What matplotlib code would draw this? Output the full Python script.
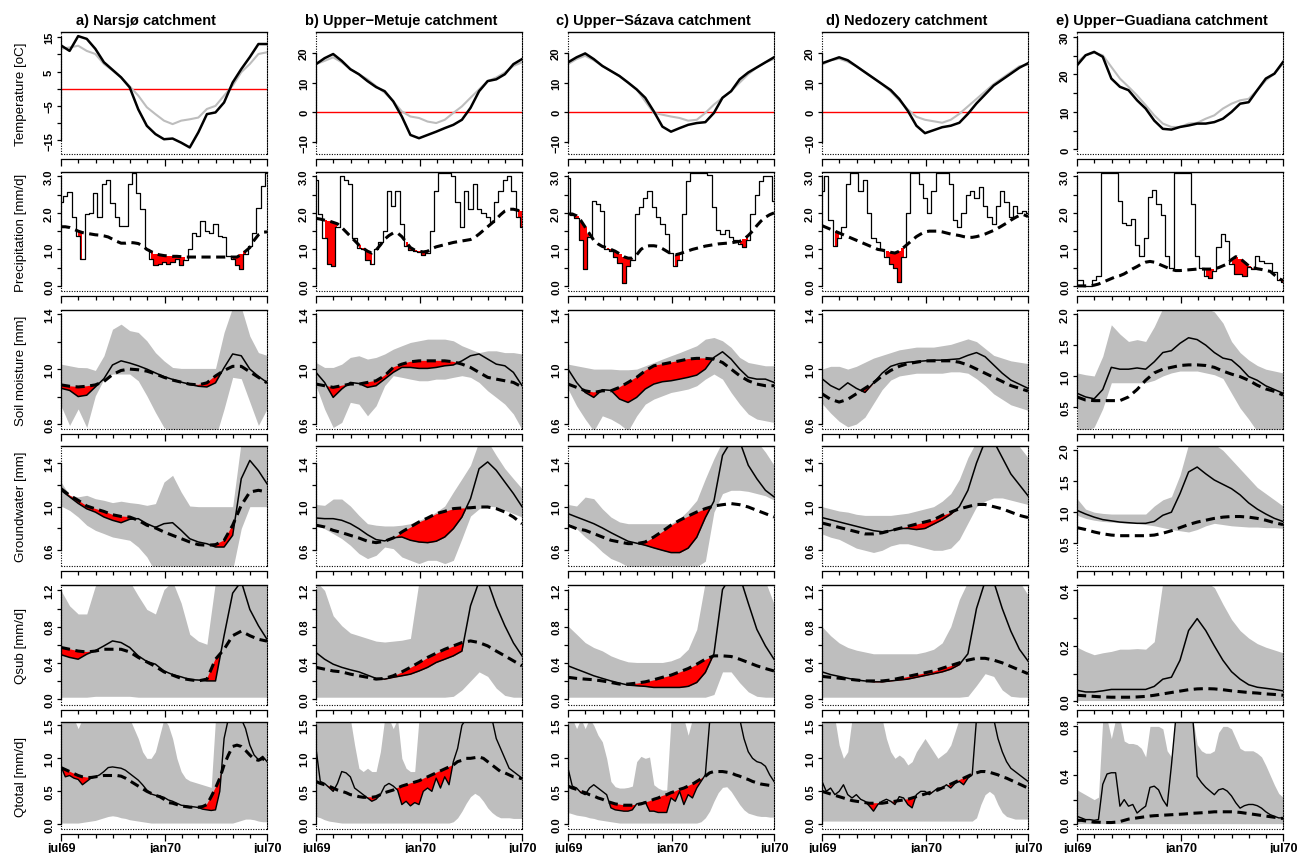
import numpy as np
import matplotlib
matplotlib.use("Agg")
import matplotlib.pyplot as plt

plt.rcParams['font.family'] = ['Liberation Sans', 'DejaVu Sans']

# values: 25 points = half-monthly, 49 points = quarter-monthly (jul69 -> jul70)

# ---------------- a) Narsjø ----------------
temp_a_obs = [12.6, 11.0, 15.3, 14.5, 11.6, 7.7, 5.5, 3.3, 0.4, -6.0, -10.8, -13.2, -14.7, -14.5, -15.7, -17.1, -12.7, -7.4, -6.9, -4.0, 1.8, 5.7, 9.2, 13.0, 13.0]
temp_a_ref = [11.6, 12.0, 12.5, 11.0, 10.1, 7.2, 5.3, 3.3, 0.7, -2.0, -5.4, -7.4, -9.3, -10.3, -9.3, -8.9, -8.4, -5.9, -5.0, -2.0, 0.9, 4.8, 7.2, 10.1, 10.6]
prec_a_obs = [2.3, 2.46, 2.57, 1.9, 1.37, 0.74, 1.96, 2.0, 2.55, 1.9, 2.8, 2.9, 2.28, 1.9, 1.65, 1.65, 2.8, 3.1, 2.55, 2.1,
              1.0, 0.74, 0.56, 0.6, 0.65, 0.6, 0.65, 0.74, 0.56, 0.7, 1.0, 1.46, 1.37, 1.78, 1.5, 1.46, 1.69, 1.37, 1.33, 0.83,
              0.74, 0.56, 0.47, 0.88, 1.1, 1.46, 2.14, 2.73, 3.1]
prec_a_thr = [1.62, 1.62, 1.6, 1.55, 1.5, 1.46, 1.44, 1.42, 1.4, 1.39, 1.37, 1.34, 1.28, 1.22, 1.17, 1.17, 1.19, 1.18, 1.16, 1.1,
              1.0, 0.94, 0.88, 0.85, 0.83, 0.82, 0.81, 0.81, 0.8, 0.79, 0.79, 0.79, 0.79, 0.79, 0.79, 0.79, 0.79, 0.79, 0.79, 0.79,
              0.79, 0.79, 0.86, 0.95, 1.05, 1.25, 1.4, 1.47, 1.48]
sm_a_obs = [0.86, 0.845, 0.80, 0.81, 0.87, 0.93, 1.03, 1.06, 1.044, 1.024, 1.0, 0.972, 0.945, 0.925, 0.905, 0.89, 0.875, 0.87, 0.90, 1.01, 1.11, 1.097, 1.0, 0.947, 0.903]
sm_a_thr = [0.885, 0.875, 0.87, 0.875, 0.885, 0.91, 0.96, 0.99, 1.0, 0.995, 0.985, 0.965, 0.94, 0.92, 0.905, 0.89, 0.885, 0.9, 0.95, 0.99, 1.02, 1.02, 0.98, 0.94, 0.9]
sm_a_lo = [0.733, 0.59, 0.71, 0.575, 0.806, 0.927, 0.964, 0.964, 0.964, 0.915, 0.806, 0.685, 0.575, 0.54, 0.5, 0.5, 0.5, 0.5, 0.5, 0.71, 0.94, 0.93, 0.76, 0.59, 0.71]
sm_a_hi = [1.036, 1.024, 1.012, 1.01, 0.99, 1.097, 1.29, 1.327, 1.28, 1.267, 1.206, 1.12, 1.06, 1.012, 1.005, 1.005, 1.005, 1.005, 1.005, 1.267, 1.45, 1.45, 1.24, 1.12, 1.1]
gw_a_obs = [1.15, 1.09, 1.03, 0.98, 0.95, 0.905, 0.875, 0.853, 0.884, 0.89, 0.844, 0.81, 0.844, 0.853, 0.783, 0.706, 0.676, 0.66, 0.63, 0.63, 0.737, 1.256, 1.424, 1.33, 1.21]
gw_a_thr = [1.165, 1.104, 1.058, 1.006, 0.98, 0.956, 0.926, 0.91, 0.905, 0.875, 0.83, 0.805, 0.768, 0.737, 0.707, 0.676, 0.652, 0.646, 0.652, 0.69, 0.83, 1.012, 1.134, 1.15, 1.134]
gw_a_lo = [1.006, 0.966, 0.905, 0.83, 0.783, 0.753, 0.722, 0.707, 0.692, 0.63, 0.54, 0.4, 0.4, 0.4, 0.4, 0.4, 0.4, 0.4, 0.4, 0.4, 0.42, 0.8, 1.0, 1.0, 1.0]
gw_a_hi = [1.226, 1.104, 1.09, 1.104, 1.073, 1.058, 1.037, 1.05, 1.037, 1.028, 1.012, 1.028, 1.226, 1.287, 1.134, 1.006, 1.0, 1.0, 1.0, 1.0, 1.0, 1.6, 1.6, 1.6, 1.6]
qsub_a_obs = [0.49, 0.46, 0.44, 0.495, 0.535, 0.587, 0.642, 0.624, 0.57, 0.477, 0.415, 0.385, 0.31, 0.27, 0.245, 0.215, 0.21, 0.2, 0.2, 0.7, 1.17, 1.3, 0.99, 0.81, 0.66]
qsub_a_thr = [0.57, 0.55, 0.53, 0.52, 0.53, 0.55, 0.55, 0.55, 0.52, 0.46, 0.41, 0.36, 0.3, 0.264, 0.228, 0.213, 0.2, 0.22, 0.44, 0.55, 0.7, 0.75, 0.7, 0.66, 0.64]
qsub_a_lo = [0.02, 0.02, 0.02, 0.02, 0.03, 0.03, 0.03, 0.03, 0.03, 0.02, 0.02, 0.02, 0.02, 0.02, 0.02, 0.02, 0.02, 0.02, 0.02, 0.02, 0.02, 0.02, 0.02, 0.02, 0.02]
qsub_a_hi = [1.2, 1.03, 0.94, 0.94, 1.25, 1.3, 1.3, 1.3, 1.3, 1.14, 0.99, 0.94, 1.21, 1.3, 1.06, 0.716, 0.64, 0.605, 1.3, 1.3, 1.3, 1.3, 1.3, 1.3, 1.3]
qtot_a_obs = [0.88, 0.72, 0.74, 0.7, 0.68, 0.6, 0.65, 0.7, 0.72, 0.75, 0.8, 0.86, 0.87, 0.86, 0.85, 0.82, 0.77, 0.72, 0.67, 0.6,
              0.52, 0.46, 0.44, 0.43, 0.41, 0.37, 0.35, 0.32, 0.29, 0.28, 0.27, 0.265, 0.255, 0.23, 0.22, 0.21, 0.22, 0.5, 1.3, 1.6,
              1.6, 1.6, 1.6, 1.45, 1.2, 1.05, 0.98, 1.03, 0.95]
qtot_a_thr = [0.86, 0.83, 0.8, 0.77, 0.74, 0.72, 0.71, 0.71, 0.72, 0.73, 0.74, 0.74, 0.74, 0.74, 0.73, 0.7, 0.66, 0.62, 0.58, 0.54,
              0.5, 0.47, 0.44, 0.42, 0.38, 0.33, 0.32, 0.3, 0.28, 0.27, 0.26, 0.26, 0.26, 0.27, 0.3, 0.42, 0.55, 0.7, 0.9, 1.05,
              1.18, 1.2, 1.18, 1.12, 1.05, 0.99, 0.97, 1.0, 0.93]
qtot_a_lo = [0.02, 0.02, 0.02, 0.02, 0.02, 0.03, 0.04, 0.05, 0.06, 0.08, 0.1, 0.12, 0.13, 0.12, 0.1, 0.09, 0.07, 0.06, 0.05, 0.04,
             0.03, 0.02, 0.02, 0.02, 0.02, 0.02, 0.02, 0.02, 0.02, 0.02, 0.02, 0.02, 0.02, 0.02, 0.02, 0.02, 0.02, 0.02, 0.02, 0.02,
             0.02, 0.04, 0.06, 0.08, 0.08, 0.07, 0.05, 0.04, 0.04]
qtot_a_hi = [1.6, 1.6, 1.6, 1.6, 1.45, 1.6, 1.6, 1.6, 1.6, 1.6, 1.6, 1.6, 1.6, 1.6, 1.6, 1.6, 1.6, 1.45, 1.3, 1.1,
             1.0, 1.0, 1.1, 1.35, 1.6, 1.5, 1.3, 1.0, 0.8, 0.7, 0.66, 0.64, 0.62, 0.6, 0.58, 0.56, 1.6, 1.6, 1.6, 1.6,
             1.6, 1.6, 1.6, 1.6, 1.6, 1.6, 1.6, 1.6, 1.6]

# ---------------- b) Upper-Metuje ----------------
temp_b_obs = [16.2, 18.2, 19.6, 17.3, 14.5, 12.8, 10.5, 8.5, 7.1, 3.7, -1.4, -7.6, -8.7, -7.6, -6.5, -5.3, -4.2, -2.5, 1.5, 7.1, 10.5, 11.1, 12.8, 16.2, 17.9]
temp_b_ref = [16.2, 17.3, 18.5, 16.8, 14.5, 12.8, 11.1, 8.8, 6.6, 3.7, 0.3, -1.4, -1.9, -3.1, -3.6, -2.5, -0.2, 2.0, 4.9, 7.7, 10.5, 11.7, 13.4, 15.6, 16.8]
prec_b_obs = [2.9, 1.97, 1.3, 0.6, 0.55, 1.6, 3.0, 2.9, 2.8, 1.3, 1.05, 1.0, 0.7, 0.6, 1.0, 1.2, 1.5, 2.6, 2.2, 2.6,
              1.7, 1.1, 0.98, 0.95, 0.92, 0.85, 0.9, 1.5, 2.6, 3.1, 3.1, 3.1, 3.0, 2.3, 1.6, 2.6, 2.1, 2.8, 2.1, 2.0,
              1.9, 1.75, 2.3, 2.6, 2.9, 3.0, 2.6, 1.9, 1.6]
prec_b_thr = [1.85, 1.83, 1.8, 1.78, 1.74, 1.7, 1.6, 1.48, 1.36, 1.24, 1.12, 1.03, 0.95, 0.9, 0.98, 1.12, 1.28, 1.38, 1.45, 1.45,
              1.35, 1.2, 1.05, 0.98, 0.95, 0.93, 0.95, 1.02, 1.07, 1.1, 1.13, 1.16, 1.19, 1.21, 1.23, 1.25, 1.27, 1.33, 1.42, 1.52,
              1.62, 1.72, 1.83, 1.95, 2.05, 2.1, 2.1, 2.07, 2.05]
sm_b_obs = [0.976, 0.903, 0.794, 0.855, 0.903, 0.895, 0.867, 0.879, 0.927, 0.976, 1.012, 1.012, 1.005, 1.005, 1.012, 1.024, 1.03, 1.06, 1.097, 1.11, 1.073, 1.036, 1.024, 0.976, 0.88]
sm_b_thr = [0.891, 0.879, 0.867, 0.879, 0.891, 0.891, 0.903, 0.915, 0.952, 1.012, 1.036, 1.053, 1.06, 1.06, 1.06, 1.06, 1.053, 1.036, 1.012, 0.976, 0.94, 0.927, 0.915, 0.903, 0.87]
sm_b_lo = [0.879, 0.709, 0.575, 0.612, 0.758, 0.745, 0.66, 0.733, 0.879, 0.952, 0.94, 0.927, 0.915, 0.915, 0.927, 0.927, 0.94, 0.952, 0.94, 0.903, 0.842, 0.794, 0.745, 0.673, 0.56]
sm_b_hi = [1.048, 1.012, 1.012, 1.036, 1.085, 1.097, 1.073, 1.085, 1.11, 1.145, 1.17, 1.194, 1.206, 1.218, 1.218, 1.218, 1.206, 1.17, 1.145, 1.12, 1.133, 1.133, 1.12, 1.12, 1.11]
gw_b_obs = [0.896, 0.89, 0.89, 0.875, 0.844, 0.798, 0.743, 0.698, 0.686, 0.715, 0.722, 0.692, 0.676, 0.67, 0.683, 0.722, 0.798, 0.905, 1.073, 1.348, 1.41, 1.333, 1.226, 1.12, 1.0]
gw_b_thr = [0.83, 0.814, 0.783, 0.762, 0.737, 0.713, 0.683, 0.67, 0.683, 0.713, 0.768, 0.814, 0.86, 0.896, 0.936, 0.957, 0.982, 0.988, 0.99, 0.997, 0.997, 0.982, 0.951, 0.905, 0.844]
gw_b_lo = [0.844, 0.798, 0.753, 0.707, 0.646, 0.57, 0.524, 0.554, 0.63, 0.615, 0.539, 0.508, 0.478, 0.508, 0.508, 0.478, 0.508, 0.707, 0.914, 0.98, 1.006, 0.997, 0.966, 0.936, 0.905]
gw_b_hi = [1.02, 1.012, 1.07, 1.07, 1.006, 0.92, 0.844, 0.83, 0.823, 0.823, 0.83, 0.844, 0.875, 0.905, 0.951, 1.006, 1.134, 1.256, 1.38, 1.6, 1.6, 1.47, 1.35, 1.256, 1.165]
qsub_b_obs = [0.514, 0.44, 0.385, 0.35, 0.323, 0.3, 0.264, 0.228, 0.22, 0.24, 0.257, 0.275, 0.31, 0.35, 0.404, 0.44, 0.477, 0.53, 1.03, 1.3, 1.3, 1.03, 0.81, 0.62, 0.477]
qsub_b_thr = [0.35, 0.33, 0.31, 0.3, 0.275, 0.257, 0.24, 0.22, 0.228, 0.257, 0.3, 0.35, 0.404, 0.46, 0.506, 0.55, 0.587, 0.624, 0.642, 0.624, 0.587, 0.53, 0.477, 0.422, 0.367]
qsub_b_lo = [0.02, 0.02, 0.02, 0.02, 0.02, 0.02, 0.02, 0.02, 0.02, 0.02, 0.02, 0.02, 0.02, 0.02, 0.02, 0.02, 0.03, 0.1, 0.2, 0.3, 0.25, 0.12, 0.04, 0.02, 0.02]
qsub_b_hi = [1.3, 1.2, 0.92, 0.81, 0.73, 0.7, 0.67, 0.64, 0.63, 0.64, 0.65, 0.67, 1.3, 1.3, 1.3, 1.3, 1.3, 1.3, 1.3, 1.3, 1.3, 1.3, 1.3, 1.3, 1.3]
qtot_b_obs = [1.15, 0.65, 0.62, 0.56, 0.5, 0.62, 0.8, 0.78, 0.72, 0.55, 0.5, 0.45, 0.4, 0.35, 0.38, 0.45, 0.58, 0.62, 0.58, 0.52,
              0.3, 0.35, 0.28, 0.33, 0.3, 0.5, 0.55, 0.5, 0.7, 0.55, 0.72, 0.6, 0.95, 1.15, 1.5, 1.6, 1.6, 1.6, 1.6, 1.6,
              1.6, 1.6, 1.3, 1.15, 1.0, 0.85, 0.8, 0.75, 0.7]
qtot_b_thr = [0.65, 0.62, 0.6, 0.58, 0.55, 0.52, 0.5, 0.48, 0.45, 0.44, 0.42, 0.41, 0.41, 0.41, 0.42, 0.45, 0.48, 0.5, 0.52, 0.55,
              0.58, 0.6, 0.62, 0.64, 0.66, 0.69, 0.72, 0.75, 0.78, 0.81, 0.84, 0.87, 0.9, 0.95, 0.97, 1.0, 1.0, 1.01, 1.02, 1.0,
              0.95, 0.9, 0.85, 0.8, 0.78, 0.75, 0.72, 0.71, 0.69]
qtot_b_lo = [0.12, 0.1, 0.07, 0.05, 0.04, 0.03, 0.02, 0.02, 0.02, 0.02, 0.02, 0.02, 0.02, 0.02, 0.02, 0.02, 0.02, 0.02, 0.02, 0.02,
             0.02, 0.02, 0.02, 0.02, 0.02, 0.02, 0.02, 0.02, 0.02, 0.02, 0.02, 0.02, 0.04, 0.1, 0.2, 0.32, 0.42, 0.47, 0.43, 0.35,
             0.25, 0.18, 0.13, 0.1, 0.1, 0.1, 0.09, 0.09, 0.09]
qtot_b_hi = [1.6, 1.6, 1.6, 1.6, 1.6, 1.6, 1.6, 1.6, 1.6, 1.2, 0.85, 0.8, 0.85, 0.8, 0.8, 1.1, 1.6, 1.6, 1.45, 1.6,
             1.0, 0.85, 0.8, 0.8, 1.6, 1.6, 1.6, 1.6, 1.6, 1.6, 1.6, 1.6, 1.6, 1.6, 1.6, 1.6, 1.6, 1.6, 1.6, 1.6,
             1.6, 1.6, 1.6, 1.6, 1.6, 1.6, 1.6, 1.6, 1.6]

# ---------------- c) Upper-Sázava ----------------
temp_c_obs = [16.8, 18.5, 19.8, 17.9, 15.6, 13.9, 12.2, 10.0, 7.7, 4.9, 0.3, -4.8, -6.5, -5.3, -4.2, -3.6, -3.3, -0.2, 4.9, 7.1, 11.1, 13.4, 15.1, 16.8, 18.5]
temp_c_ref = [16.2, 17.9, 19.0, 17.5, 15.6, 13.9, 12.2, 10.0, 7.7, 3.7, -0.2, -0.8, -1.4, -1.9, -2.8, -2.5, -0.2, 2.6, 4.9, 7.1, 10.0, 12.8, 15.1, 16.8, 17.9]
prec_c_obs = [2.95, 1.95, 1.85, 1.25, 0.45, 1.35, 2.33, 2.24, 2.06, 1.0, 0.95, 0.8, 0.63, 0.09, 0.54, 0.72, 1.97, 2.15, 2.42, 2.6,
              2.15, 1.88, 1.7, 1.43, 0.9, 0.54, 0.72, 1.97, 2.86, 3.1, 3.1, 3.1, 3.1, 3.05, 2.15, 1.52, 1.43, 1.52, 1.34, 1.25,
              1.16, 1.07, 1.25, 1.97, 2.5, 2.86, 3.0, 3.0, 2.33]
prec_c_thr = [1.97, 1.97, 1.92, 1.79, 1.61, 1.43, 1.25, 1.15, 1.08, 1.05, 1.0, 0.95, 0.88, 0.8, 0.76, 0.76, 0.85, 1.0, 1.08, 1.1,
              1.1, 1.08, 1.02, 0.95, 0.88, 0.85, 0.88, 0.92, 0.96, 1.0, 1.03, 1.06, 1.09, 1.11, 1.13, 1.15, 1.16, 1.17, 1.18, 1.2,
              1.22, 1.28, 1.38, 1.5, 1.65, 1.78, 1.88, 1.95, 2.0]
sm_c_obs = [1.0, 0.903, 0.83, 0.794, 0.85, 0.845, 0.782, 0.757, 0.794, 0.855, 0.891, 0.908, 0.915, 0.927, 0.94, 0.956, 1.0, 1.085, 1.126, 1.073, 1.0, 0.94, 0.927, 0.927, 0.903]
sm_c_thr = [0.891, 0.867, 0.842, 0.83, 0.842, 0.842, 0.867, 0.903, 0.94, 0.988, 1.024, 1.036, 1.048, 1.06, 1.073, 1.078, 1.078, 1.073, 1.048, 1.0, 0.952, 0.915, 0.891, 0.879, 0.879]
sm_c_lo = [0.855, 0.733, 0.636, 0.55, 0.66, 0.636, 0.6, 0.55, 0.66, 0.745, 0.782, 0.806, 0.83, 0.842, 0.855, 0.879, 0.927, 0.964, 0.927, 0.83, 0.745, 0.673, 0.636, 0.624, 0.612]
sm_c_hi = [1.036, 1.024, 1.012, 1.0, 1.0, 1.0, 0.995, 0.995, 1.0, 1.024, 1.048, 1.073, 1.097, 1.12, 1.145, 1.17, 1.218, 1.23, 1.206, 1.158, 1.085, 1.048, 1.036, 1.024, 1.024]
gw_c_obs = [0.936, 0.905, 0.875, 0.844, 0.805, 0.762, 0.722, 0.683, 0.665, 0.646, 0.622, 0.6, 0.579, 0.579, 0.62, 0.72, 0.9, 1.05, 1.47, 1.6, 1.6, 1.38, 1.256, 1.15, 1.09]
gw_c_thr = [0.83, 0.798, 0.783, 0.753, 0.722, 0.692, 0.676, 0.661, 0.661, 0.676, 0.722, 0.774, 0.83, 0.875, 0.914, 0.951, 0.982, 1.006, 1.018, 1.028, 1.018, 0.997, 0.966, 0.936, 0.905]
gw_c_lo = [0.86, 0.798, 0.722, 0.661, 0.585, 0.524, 0.493, 0.45, 0.45, 0.45, 0.45, 0.45, 0.45, 0.45, 0.45, 0.45, 0.5, 0.95, 1.12, 1.15, 1.15, 1.14, 1.12, 1.1, 1.06]
gw_c_hi = [1.02, 1.006, 1.088, 1.073, 0.98, 0.905, 0.86, 0.844, 0.844, 0.844, 0.844, 0.844, 0.844, 0.89, 0.966, 1.058, 1.256, 1.44, 1.6, 1.6, 1.6, 1.6, 1.6, 1.5, 1.38]
qsub_c_obs = [0.367, 0.33, 0.294, 0.257, 0.228, 0.2, 0.176, 0.154, 0.147, 0.14, 0.128, 0.128, 0.128, 0.128, 0.14, 0.183, 0.294, 0.5, 1.21, 1.36, 1.36, 1.06, 0.77, 0.587, 0.44]
qsub_c_thr = [0.24, 0.228, 0.22, 0.213, 0.2, 0.183, 0.165, 0.165, 0.176, 0.19, 0.213, 0.24, 0.264, 0.3, 0.337, 0.385, 0.44, 0.477, 0.477, 0.47, 0.44, 0.404, 0.367, 0.337, 0.31]
qsub_c_lo = [0.02, 0.02, 0.02, 0.02, 0.02, 0.02, 0.02, 0.02, 0.02, 0.02, 0.02, 0.02, 0.02, 0.02, 0.02, 0.02, 0.02, 0.05, 0.3, 0.3, 0.18, 0.08, 0.03, 0.02, 0.02]
qsub_c_hi = [0.807, 0.716, 0.624, 0.569, 0.532, 0.477, 0.44, 0.411, 0.404, 0.404, 0.404, 0.404, 0.422, 0.459, 0.55, 0.77, 1.3, 1.3, 1.3, 1.3, 1.3, 1.3, 1.3, 1.3, 1.05]
qtot_c_obs = [0.85, 0.58, 0.55, 0.48, 0.45, 0.55, 0.6, 0.55, 0.5, 0.45, 0.25, 0.22, 0.21, 0.2, 0.2, 0.22, 0.31, 0.32, 0.34, 0.2,
              0.2, 0.18, 0.18, 0.18, 0.4, 0.35, 0.5, 0.3, 0.45, 0.4, 0.55, 0.65, 0.75, 1.55, 1.6, 1.6, 1.6, 1.6, 1.6, 1.6,
              1.6, 1.3, 1.1, 1.0, 0.95, 0.93, 0.88, 0.75, 0.65]
qtot_c_thr = [0.58, 0.55, 0.53, 0.5, 0.48, 0.45, 0.43, 0.4, 0.38, 0.35, 0.33, 0.31, 0.3, 0.29, 0.29, 0.29, 0.3, 0.31, 0.33, 0.35,
              0.38, 0.4, 0.43, 0.45, 0.48, 0.5, 0.53, 0.55, 0.58, 0.61, 0.65, 0.69, 0.73, 0.78, 0.8, 0.8, 0.8, 0.79, 0.78, 0.75,
              0.73, 0.7, 0.68, 0.65, 0.63, 0.61, 0.6, 0.59, 0.58]
qtot_c_lo = [0.18, 0.16, 0.14, 0.13, 0.12, 0.1, 0.09, 0.07, 0.06, 0.05, 0.04, 0.03, 0.02, 0.02, 0.02, 0.02, 0.02, 0.02, 0.02, 0.02,
             0.02, 0.02, 0.02, 0.02, 0.02, 0.02, 0.02, 0.02, 0.02, 0.02, 0.02, 0.04, 0.1, 0.2, 0.35, 0.48, 0.56, 0.57, 0.5, 0.4,
             0.3, 0.22, 0.17, 0.15, 0.13, 0.12, 0.12, 0.11, 0.11]
qtot_c_hi = [1.6, 1.6, 1.45, 1.6, 1.45, 1.6, 1.5, 1.35, 1.25, 1.0, 0.65, 0.57, 0.55, 0.55, 0.56, 0.58, 0.95, 1.03, 1.0, 1.02,
             0.6, 0.55, 0.52, 0.52, 1.6, 1.6, 1.6, 1.6, 1.35, 1.6, 1.6, 1.6, 1.6, 1.6, 1.6, 1.6, 1.6, 1.6, 1.6, 1.6,
             1.6, 1.6, 1.6, 1.6, 1.6, 1.6, 1.6, 1.6, 1.6]

# ---------------- d) Nedozery ----------------
temp_d_obs = [16.5, 17.5, 18.5, 17.5, 15.5, 13.5, 11.5, 9.5, 7.5, 4.5, 0.5, -4.5, -7.0, -6.0, -5.0, -4.5, -3.5, -0.5, 3.0, 6.0, 9.0, 11.0, 13.0, 15.0, 16.5]
temp_d_ref = [16.0, 17.5, 18.0, 17.0, 15.5, 13.5, 11.5, 9.5, 7.0, 4.0, 1.0, -1.5, -2.5, -3.0, -3.5, -2.5, -0.5, 2.0, 4.5, 7.0, 9.5, 11.5, 13.5, 15.5, 16.0]
prec_d_obs = [2.6, 3.0, 1.8, 1.1, 1.3, 1.6, 2.8, 3.1, 3.1, 2.6, 2.9, 2.0, 1.3, 1.2, 1.0, 0.8, 0.6, 0.5, 0.1, 0.8,
              2.0, 3.1, 3.1, 2.8, 2.4, 2.0, 2.6, 3.1, 3.1, 3.1, 2.8, 1.8, 1.6, 2.0, 2.5, 2.6, 2.4, 2.7, 2.2, 1.9,
              1.7, 2.2, 2.6, 2.3, 1.9, 2.2, 2.0, 2.05, 2.0]
prec_d_thr = [1.65, 1.6, 1.55, 1.5, 1.45, 1.4, 1.35, 1.3, 1.25, 1.2, 1.15, 1.1, 1.05, 1.0, 0.98, 0.95, 0.92, 0.9, 0.95, 1.05,
              1.15, 1.25, 1.35, 1.42, 1.48, 1.5, 1.5, 1.5, 1.48, 1.45, 1.42, 1.4, 1.38, 1.35, 1.33, 1.33, 1.35, 1.38, 1.42, 1.47,
              1.52, 1.58, 1.65, 1.72, 1.8, 1.87, 1.93, 1.95, 1.9]
sm_d_obs = [0.93, 0.88, 0.85, 0.9, 0.86, 0.83, 0.9, 0.97, 1.02, 1.04, 1.05, 1.055, 1.06, 1.065, 1.065, 1.07, 1.075, 1.1, 1.12, 1.09, 1.03, 0.97, 0.92, 0.89, 0.86]
sm_d_thr = [0.82, 0.78, 0.76, 0.78, 0.82, 0.86, 0.9, 0.95, 0.99, 1.02, 1.04, 1.05, 1.06, 1.06, 1.06, 1.06, 1.05, 1.03, 1.0, 0.97, 0.94, 0.91, 0.88, 0.86, 0.84]
sm_d_lo = [0.75, 0.68, 0.62, 0.58, 0.6, 0.65, 0.75, 0.85, 0.92, 0.95, 0.96, 0.97, 0.97, 0.97, 0.97, 0.98, 0.98, 0.97, 0.93, 0.88, 0.82, 0.78, 0.74, 0.72, 0.7]
sm_d_hi = [1.0, 1.02, 1.02, 1.0, 1.02, 1.05, 1.08, 1.1, 1.12, 1.14, 1.15, 1.16, 1.16, 1.16, 1.17, 1.18, 1.2, 1.22, 1.2, 1.15, 1.1, 1.08, 1.06, 1.05, 1.04]
gw_d_obs = [0.9, 0.88, 0.86, 0.84, 0.82, 0.8, 0.78, 0.77, 0.78, 0.8, 0.8, 0.79, 0.8, 0.84, 0.88, 0.93, 1.0, 1.15, 1.4, 1.6, 1.6, 1.45, 1.3, 1.2, 1.1]
gw_d_thr = [0.85, 0.83, 0.81, 0.79, 0.77, 0.75, 0.75, 0.76, 0.78, 0.8, 0.82, 0.84, 0.86, 0.88, 0.92, 0.95, 0.98, 1.0, 1.02, 1.02, 1.0, 0.98, 0.95, 0.92, 0.9]
gw_d_lo = [0.75, 0.72, 0.7, 0.66, 0.62, 0.6, 0.58, 0.6, 0.64, 0.66, 0.66, 0.64, 0.62, 0.6, 0.6, 0.62, 0.7, 0.85, 1.0, 1.05, 1.08, 1.08, 1.06, 1.04, 1.02]
gw_d_hi = [1.0, 0.98, 0.96, 0.95, 0.93, 0.92, 0.92, 0.92, 0.92, 0.93, 0.94, 0.96, 0.98, 1.0, 1.05, 1.12, 1.25, 1.45, 1.6, 1.6, 1.6, 1.6, 1.6, 1.55, 1.45]
qsub_d_obs = [0.3, 0.27, 0.25, 0.23, 0.21, 0.2, 0.19, 0.19, 0.2, 0.21, 0.22, 0.24, 0.26, 0.28, 0.3, 0.33, 0.38, 0.5, 1.0, 1.3, 1.3, 1.0, 0.75, 0.55, 0.42]
qsub_d_thr = [0.25, 0.24, 0.23, 0.22, 0.21, 0.2, 0.2, 0.2, 0.21, 0.23, 0.25, 0.27, 0.29, 0.31, 0.34, 0.37, 0.4, 0.43, 0.45, 0.45, 0.43, 0.4, 0.36, 0.32, 0.28]
qsub_d_lo = [0.02, 0.02, 0.02, 0.02, 0.02, 0.02, 0.02, 0.02, 0.02, 0.02, 0.02, 0.02, 0.02, 0.02, 0.02, 0.02, 0.02, 0.03, 0.15, 0.28, 0.25, 0.1, 0.03, 0.02, 0.02]
qsub_d_hi = [0.8, 0.7, 0.62, 0.57, 0.54, 0.52, 0.5, 0.5, 0.5, 0.5, 0.5, 0.5, 0.52, 0.55, 0.62, 0.8, 1.1, 1.3, 1.3, 1.3, 1.3, 1.3, 1.3, 1.3, 1.15]
qtot_d_obs = [0.65, 0.5, 0.55, 0.45, 0.5, 0.6, 0.45, 0.4, 0.45, 0.38, 0.35, 0.28, 0.2, 0.3, 0.35, 0.38, 0.35, 0.3, 0.42, 0.4,
              0.3, 0.25, 0.45, 0.5, 0.5, 0.45, 0.5, 0.55, 0.55, 0.6, 0.55, 0.62, 0.65, 0.6, 0.7, 0.75, 1.6, 1.6, 1.6, 1.6,
              1.6, 1.3, 1.1, 0.95, 0.85, 0.8, 0.75, 0.7, 0.65]
qtot_d_thr = [0.5, 0.48, 0.46, 0.44, 0.42, 0.4, 0.38, 0.36, 0.35, 0.34, 0.33, 0.32, 0.32, 0.32, 0.32, 0.33, 0.34, 0.35, 0.36, 0.37,
              0.38, 0.4, 0.42, 0.44, 0.46, 0.48, 0.5, 0.52, 0.55, 0.58, 0.61, 0.64, 0.67, 0.7, 0.73, 0.76, 0.78, 0.8, 0.8, 0.79,
              0.77, 0.75, 0.72, 0.7, 0.67, 0.64, 0.61, 0.58, 0.55]
qtot_d_lo = [0.05, 0.05, 0.05, 0.05, 0.05, 0.05, 0.05, 0.05, 0.05, 0.05, 0.05, 0.05, 0.05, 0.05, 0.05, 0.05, 0.05, 0.05, 0.05, 0.05,
             0.05, 0.05, 0.05, 0.05, 0.05, 0.05, 0.05, 0.05, 0.05, 0.05, 0.05, 0.05, 0.05, 0.05, 0.05, 0.05, 0.1, 0.3, 0.45, 0.5,
             0.45, 0.3, 0.18, 0.12, 0.1, 0.08, 0.08, 0.08, 0.08]
qtot_d_hi = [1.6, 1.6, 1.6, 1.6, 1.2, 1.0, 1.1, 1.6, 1.6, 1.6, 1.6, 1.6, 1.6, 1.6, 1.6, 1.3, 1.1, 1.0, 1.05, 1.0,
             0.9, 0.95, 1.1, 1.2, 1.3, 1.2, 1.1, 1.0, 1.05, 1.1, 1.2, 1.4, 1.6, 1.6, 1.6, 1.6, 1.6, 1.6, 1.6, 1.6,
             1.6, 1.6, 1.6, 1.6, 1.6, 1.6, 1.6, 1.6, 1.6]

# ---------------- e) Upper-Guadiana ----------------
temp_e_obs = [22.4, 25.1, 26.0, 24.7, 18.9, 16.7, 15.8, 13.1, 10.9, 7.7, 5.5, 5.3, 6.0, 6.4, 6.9, 6.9, 7.3, 8.2, 10.0, 12.2, 12.6, 15.8, 18.9, 20.2, 23.3]
temp_e_ref = [23.3, 25.1, 25.8, 25.1, 22.0, 18.9, 16.7, 14.4, 11.8, 9.1, 6.9, 6.0, 6.0, 6.9, 7.1, 8.2, 9.1, 10.9, 12.2, 13.1, 13.5, 15.8, 18.4, 20.2, 22.9]
prec_e_obs = [0.17, 0.17, 0.01, 0.01, 0.17, 0.27, 3.1, 3.1, 3.1, 3.1, 2.33, 1.72, 1.68, 1.83, 1.12, 0.82, 1.32, 2.43, 2.63, 2.23,
              1.93, 0.82, 0.5, 3.1, 3.1, 3.1, 3.1, 2.23, 0.82, 0.5, 0.27, 0.22, 0.42, 1.07, 1.42, 1.22, 0.6, 0.32, 0.32, 0.27,
              0.52, 0.47, 0.82, 0.67, 0.62, 0.62, 0.37, 0.17, 0.1]
prec_e_thr = [0.0, 0.0, 0.0, 0.0, 0.02, 0.05, 0.1, 0.15, 0.2, 0.25, 0.28, 0.33, 0.4, 0.47, 0.53, 0.6, 0.65, 0.67, 0.65, 0.6,
              0.55, 0.5, 0.45, 0.42, 0.42, 0.43, 0.44, 0.45, 0.46, 0.46, 0.46, 0.46, 0.47, 0.5, 0.55, 0.6, 0.72, 0.8, 0.75, 0.65,
              0.55, 0.5, 0.47, 0.45, 0.42, 0.4, 0.3, 0.2, 0.15]
sm_e_obs = [0.72, 0.66, 0.63, 0.78, 1.14, 1.11, 1.11, 1.13, 1.11, 1.23, 1.38, 1.41, 1.53, 1.62, 1.59, 1.5, 1.38, 1.29, 1.26, 1.14, 0.99, 0.93, 0.84, 0.78, 0.72]
sm_e_thr = [0.66, 0.61, 0.6, 0.6, 0.6, 0.6, 0.66, 0.78, 0.93, 1.05, 1.11, 1.14, 1.17, 1.18, 1.18, 1.17, 1.14, 1.08, 1.03, 0.99, 0.93, 0.85, 0.79, 0.75, 0.69]
sm_e_lo = [0.1, 0.1, 0.17, 0.47, 0.89, 0.89, 0.89, 0.89, 0.89, 0.93, 1.0, 1.05, 1.08, 1.08, 1.08, 1.05, 1.02, 0.96, 0.72, 0.48, 0.3, 0.1, 0.1, 0.1, 0.1]
sm_e_hi = [1.05, 1.02, 1.0, 1.32, 1.83, 1.68, 1.56, 1.59, 1.56, 1.8, 2.1, 2.1, 2.1, 2.1, 2.1, 2.1, 2.04, 1.86, 1.56, 1.38, 1.26, 1.17, 1.11, 1.08, 1.05]
gw_e_obs = [1.03, 0.97, 0.92, 0.88, 0.86, 0.84, 0.83, 0.82, 0.82, 0.85, 0.95, 1.0, 1.3, 1.65, 1.73, 1.62, 1.52, 1.45, 1.38, 1.28, 1.15, 1.05, 0.97, 0.9, 0.85]
gw_e_thr = [0.75, 0.72, 0.68, 0.65, 0.63, 0.62, 0.62, 0.62, 0.62, 0.63, 0.66, 0.7, 0.75, 0.8, 0.84, 0.87, 0.9, 0.92, 0.93, 0.93, 0.92, 0.9, 0.87, 0.83, 0.8]
gw_e_lo = [0.95, 0.9, 0.87, 0.85, 0.84, 0.83, 0.82, 0.82, 0.8, 0.78, 0.75, 0.72, 0.7, 0.68, 0.72, 0.78, 0.82, 0.8, 0.78, 0.77, 0.76, 0.76, 0.75, 0.75, 0.74]
gw_e_hi = [1.22, 1.05, 1.0, 0.98, 0.97, 0.97, 0.97, 0.97, 0.97, 1.1, 1.2, 1.25, 1.6, 2.1, 2.1, 2.1, 2.1, 2.0, 1.85, 1.7, 1.55, 1.4, 1.3, 1.2, 1.1]
qsub_e_obs = [0.04, 0.034, 0.034, 0.038, 0.043, 0.043, 0.043, 0.043, 0.043, 0.054, 0.08, 0.087, 0.148, 0.255, 0.298, 0.255, 0.2, 0.148, 0.107, 0.08, 0.06, 0.051, 0.047, 0.043, 0.038]
qsub_e_thr = [0.022, 0.02, 0.018, 0.016, 0.015, 0.015, 0.015, 0.016, 0.018, 0.022, 0.027, 0.032, 0.037, 0.042, 0.045, 0.046, 0.045, 0.042, 0.038, 0.035, 0.032, 0.03, 0.027, 0.025, 0.022]
qsub_e_lo = [0.003, 0.003, 0.003, 0.003, 0.003, 0.003, 0.003, 0.003, 0.003, 0.003, 0.003, 0.003, 0.003, 0.003, 0.003, 0.003, 0.003, 0.003, 0.003, 0.003, 0.003, 0.003, 0.003, 0.003, 0.003]
qsub_e_hi = [0.195, 0.18, 0.168, 0.175, 0.18, 0.188, 0.188, 0.19, 0.188, 0.215, 0.43, 0.43, 0.43, 0.43, 0.43, 0.43, 0.41, 0.35, 0.295, 0.255, 0.228, 0.208, 0.195, 0.185, 0.175]
qtot_e_obs = [0.063, 0.05, 0.036, 0.036, 0.03, 0.036, 0.325, 0.41, 0.42, 0.42, 0.146, 0.2, 0.146, 0.16, 0.09, 0.12, 0.146, 0.3, 0.31, 0.28,
              0.2, 0.146, 0.48, 0.86, 0.86, 0.86, 0.86, 0.86, 0.39, 0.34, 0.3, 0.27, 0.24, 0.28, 0.29, 0.27, 0.23, 0.174, 0.13, 0.15,
              0.16, 0.16, 0.15, 0.13, 0.1, 0.077, 0.063, 0.05, 0.05]
qtot_e_thr = [0.03, 0.03, 0.025, 0.02, 0.015, 0.015, 0.012, 0.012, 0.012, 0.015, 0.02, 0.03, 0.04, 0.045, 0.05, 0.055, 0.06, 0.065, 0.068, 0.07,
              0.072, 0.074, 0.076, 0.078, 0.08, 0.082, 0.085, 0.088, 0.09, 0.092, 0.095, 0.097, 0.1, 0.1, 0.1, 0.1, 0.1, 0.098, 0.095, 0.09,
              0.085, 0.08, 0.075, 0.07, 0.065, 0.06, 0.055, 0.05, 0.045]
qtot_e_lo = [0.003, 0.003, 0.003, 0.003, 0.003, 0.003, 0.003, 0.003, 0.003, 0.003, 0.003, 0.003, 0.003, 0.003, 0.003, 0.003, 0.003, 0.003, 0.003, 0.003,
             0.003, 0.003, 0.003, 0.003, 0.003, 0.003, 0.003, 0.003, 0.003, 0.003, 0.003, 0.003, 0.003, 0.003, 0.003, 0.003, 0.003, 0.003, 0.003, 0.003,
             0.003, 0.003, 0.003, 0.003, 0.003, 0.003, 0.003, 0.003, 0.003]
qtot_e_hi = [0.28, 0.26, 0.24, 0.22, 0.2, 0.22, 0.86, 0.86, 0.7, 0.86, 0.86, 0.68, 0.66, 0.66, 0.65, 0.62, 0.55, 0.8, 0.8, 0.8,
             0.78, 0.6, 0.55, 0.86, 0.86, 0.86, 0.86, 0.86, 0.65, 0.6, 0.58, 0.58, 0.6, 0.75, 0.8, 0.8, 0.78, 0.7, 0.62, 0.6,
             0.6, 0.6, 0.58, 0.55, 0.48, 0.4, 0.32, 0.25, 0.22]

titles = ['a) Narsjø catchment', 'b) Upper\u2212Metuje catchment', 'c) Upper\u2212Sázava catchment',
          'd) Nedozery catchment', 'e) Upper\u2212Guadiana catchment']
ylabels = ['Temperature [oC]', 'Precipitation [mm/d]', 'Soil moisture [mm]', 'Groundwater [mm]',
           'Qsub [mm/d]', 'Qtotal [mm/d]']

panels = {
    'a': [(temp_a_obs, temp_a_ref), (prec_a_obs, prec_a_thr), (sm_a_obs, sm_a_thr, sm_a_lo, sm_a_hi),
          (gw_a_obs, gw_a_thr, gw_a_lo, gw_a_hi), (qsub_a_obs, qsub_a_thr, qsub_a_lo, qsub_a_hi),
          (qtot_a_obs, qtot_a_thr, qtot_a_lo, qtot_a_hi)],
    'b': [(temp_b_obs, temp_b_ref), (prec_b_obs, prec_b_thr), (sm_b_obs, sm_b_thr, sm_b_lo, sm_b_hi),
          (gw_b_obs, gw_b_thr, gw_b_lo, gw_b_hi), (qsub_b_obs, qsub_b_thr, qsub_b_lo, qsub_b_hi),
          (qtot_b_obs, qtot_b_thr, qtot_b_lo, qtot_b_hi)],
    'c': [(temp_c_obs, temp_c_ref), (prec_c_obs, prec_c_thr), (sm_c_obs, sm_c_thr, sm_c_lo, sm_c_hi),
          (gw_c_obs, gw_c_thr, gw_c_lo, gw_c_hi), (qsub_c_obs, qsub_c_thr, qsub_c_lo, qsub_c_hi),
          (qtot_c_obs, qtot_c_thr, qtot_c_lo, qtot_c_hi)],
    'd': [(temp_d_obs, temp_d_ref), (prec_d_obs, prec_d_thr), (sm_d_obs, sm_d_thr, sm_d_lo, sm_d_hi),
          (gw_d_obs, gw_d_thr, gw_d_lo, gw_d_hi), (qsub_d_obs, qsub_d_thr, qsub_d_lo, qsub_d_hi),
          (qtot_d_obs, qtot_d_thr, qtot_d_lo, qtot_d_hi)],
    'e': [(temp_e_obs, temp_e_ref), (prec_e_obs, prec_e_thr), (sm_e_obs, sm_e_thr, sm_e_lo, sm_e_hi),
          (gw_e_obs, gw_e_thr, gw_e_lo, gw_e_hi), (qsub_e_obs, qsub_e_thr, qsub_e_lo, qsub_e_hi),
          (qtot_e_obs, qtot_e_thr, qtot_e_lo, qtot_e_hi)],
}

# y limits, ticks and labelled ticks for each row (columns a-d share, e differs)
ylims = [
    {'a': (-19, 16.5), 'b': (-14, 27), 'c': (-14, 27), 'd': (-14, 27), 'e': (-1.2, 31.3)},
    {k: (-0.14, 3.12) for k in 'abcde'},
    {'a': (0.564, 1.43), 'b': (0.564, 1.43), 'c': (0.564, 1.43), 'd': (0.564, 1.43), 'e': (0.14, 2.07)},
    {'a': (0.456, 1.556), 'b': (0.456, 1.556), 'c': (0.456, 1.556), 'd': (0.456, 1.556), 'e': (0.13, 2.07)},
    {'a': (-0.066, 1.26), 'b': (-0.066, 1.26), 'c': (-0.066, 1.26), 'd': (-0.066, 1.26), 'e': (-0.013, 0.419)},
    {'a': (-0.07, 1.55), 'b': (-0.07, 1.55), 'c': (-0.07, 1.55), 'd': (-0.07, 1.55), 'e': (-0.041, 0.836)},
]
tick_a = [
    ([-15, -10, -5, 0, 5, 10, 15], [-15, -5, 5, 15]),
    ([0, 0.5, 1, 1.5, 2, 2.5, 3], [0, 1, 2, 3]),
    ([0.6, 0.8, 1.0, 1.2, 1.4], [0.6, 1.0, 1.4]),
    ([0.6, 0.8, 1.0, 1.2, 1.4], [0.6, 1.0, 1.4]),
    ([0, 0.2, 0.4, 0.6, 0.8, 1.0, 1.2], [0, 0.4, 0.8, 1.2]),
    ([0, 0.5, 1.0, 1.5], [0, 0.5, 1.0, 1.5]),
]
tick_bcd_temp = ([-10, 0, 10, 20], [-10, 0, 10, 20])
tick_e = [
    ([0, 5, 10, 15, 20, 25, 30], [0, 10, 20, 30]),
    ([0, 0.5, 1, 1.5, 2, 2.5, 3], [0, 1, 2, 3]),
    ([0.5, 1.0, 1.5, 2.0], [0.5, 1.0, 1.5, 2.0]),
    ([0.5, 1.0, 1.5, 2.0], [0.5, 1.0, 1.5, 2.0]),
    ([0, 0.1, 0.2, 0.3, 0.4], [0, 0.2, 0.4]),
    ([0, 0.2, 0.4, 0.6, 0.8], [0, 0.4, 0.8]),
]

t25 = np.linspace(0, 365, 25)
t49 = np.linspace(0, 365, 49)
month_starts = [31, 62, 92, 123, 153, 215, 243, 274, 304, 335]

W, H = 1298, 854
col_left = [61, 316, 568, 822, 1077]
pw = 206
row_top = [33, 173, 311, 447, 586, 723]
row_h = [122, 119, 119, 120, 120, 107]
band_col = '#bebebe'
dot = (0, (1, 1.3))

fig = plt.figure(figsize=(W / 100, H / 100), dpi=100)


def lab(v, row):
    s = f'{v:.0f}' if row == 0 else f'{v:.1f}'
    return s.replace('-', '\u2212')


for c, key in enumerate('abcde'):
    fig.text((col_left[c] + pw / 2 - 18) / W, 1 - 21 / H, titles[c], ha='center', va='center',
             fontsize=10.5, fontweight='bold')
    for r in range(6):
        ax = fig.add_axes([col_left[c] / W, 1 - (row_top[r] + row_h[r]) / H, pw / W, row_h[r] / H])
        s = panels[key][r]
        obs = np.array(s[0])
        t = t49 if len(obs) == 49 else t25
        if r == 0:
            ax.plot(t, s[1], color='#bdbdbd', lw=1.5, zorder=2)
            if key != 'e':
                ax.axhline(0, color='red', lw=1.0, zorder=1)
            ax.plot(t, obs, color='black', lw=1.8, zorder=3)
        else:
            thr = np.array(s[1])
            if len(s) == 4:
                ax.fill_between(t, s[2], s[3], color=band_col, lw=0, zorder=1)
            if r == 1:
                # precipitation running mean drawn as a step series
                ax.fill_between(t, obs, thr, where=obs < thr, color='red', lw=0, zorder=2, step='mid')
                ax.plot(t, obs, color='black', lw=0.9, zorder=3, drawstyle='steps-mid')
            else:
                ax.fill_between(t, obs, thr, where=obs < thr, interpolate=True, color='red', lw=0, zorder=2)
                ax.plot(t, obs, color='black', lw=1.0 if r == 5 else 1.1, zorder=3)
            ax.plot(t, thr, color='black', lw=2.2, dashes=(3, 1.8), zorder=4)

        ax.set_xlim(0, 365)
        ax.set_ylim(*ylims[r][key])

        if key == 'e':
            ticks, shown = tick_e[r]
        elif r == 0 and key != 'a':
            ticks, shown = tick_bcd_temp
        else:
            ticks, shown = tick_a[r]

        # frame: solid top, dotted box, R-like axes
        ax.spines['top'].set_linewidth(1.0)
        ax.spines['right'].set_linestyle(dot)
        ax.spines['right'].set_linewidth(0.8)
        ax.spines['bottom'].set_position(('outward', 3.6))
        ax.spines['bottom'].set_linewidth(0.9)
        ax.spines['left'].set_linewidth(0.9)
        ax.spines['left'].set_bounds(min(ticks), max(ticks))
        ax.plot([0, 1], [0, 0], transform=ax.transAxes, color='black', lw=0.8, ls=dot, clip_on=False, zorder=6)
        ax.plot([0, 0], [0, 1], transform=ax.transAxes, color='black', lw=0.8, ls=dot, clip_on=False, zorder=6)

        ax.set_yticks(ticks)
        ax.set_yticklabels([lab(v, r) if any(abs(v - w) < 1e-9 for w in shown) else '' for v in ticks],
                           rotation=90, va='center', fontsize=8, fontweight='bold')
        ax.tick_params(axis='y', length=3, width=0.9, pad=2)

        ax.set_xticks([0, 184, 365])
        ax.set_xticks(month_starts, minor=True)
        ax.tick_params(axis='x', which='major', length=5, width=0.9, pad=0.5)
        ax.tick_params(axis='x', which='minor', length=3, width=0.9)
        if r == 5:
            ax.set_xticklabels(['jul69', 'jan70', 'jul70'], fontsize=9, fontweight='bold')
        else:
            ax.set_xticklabels([])

        if c == 0:
            fig.text(21 / W, 1 - (row_top[r] + row_h[r] / 2) / H, ylabels[r], rotation=90,
                     ha='center', va='center', fontsize=9.6)

fig.savefig('out.png', dpi=100, facecolor='white')
